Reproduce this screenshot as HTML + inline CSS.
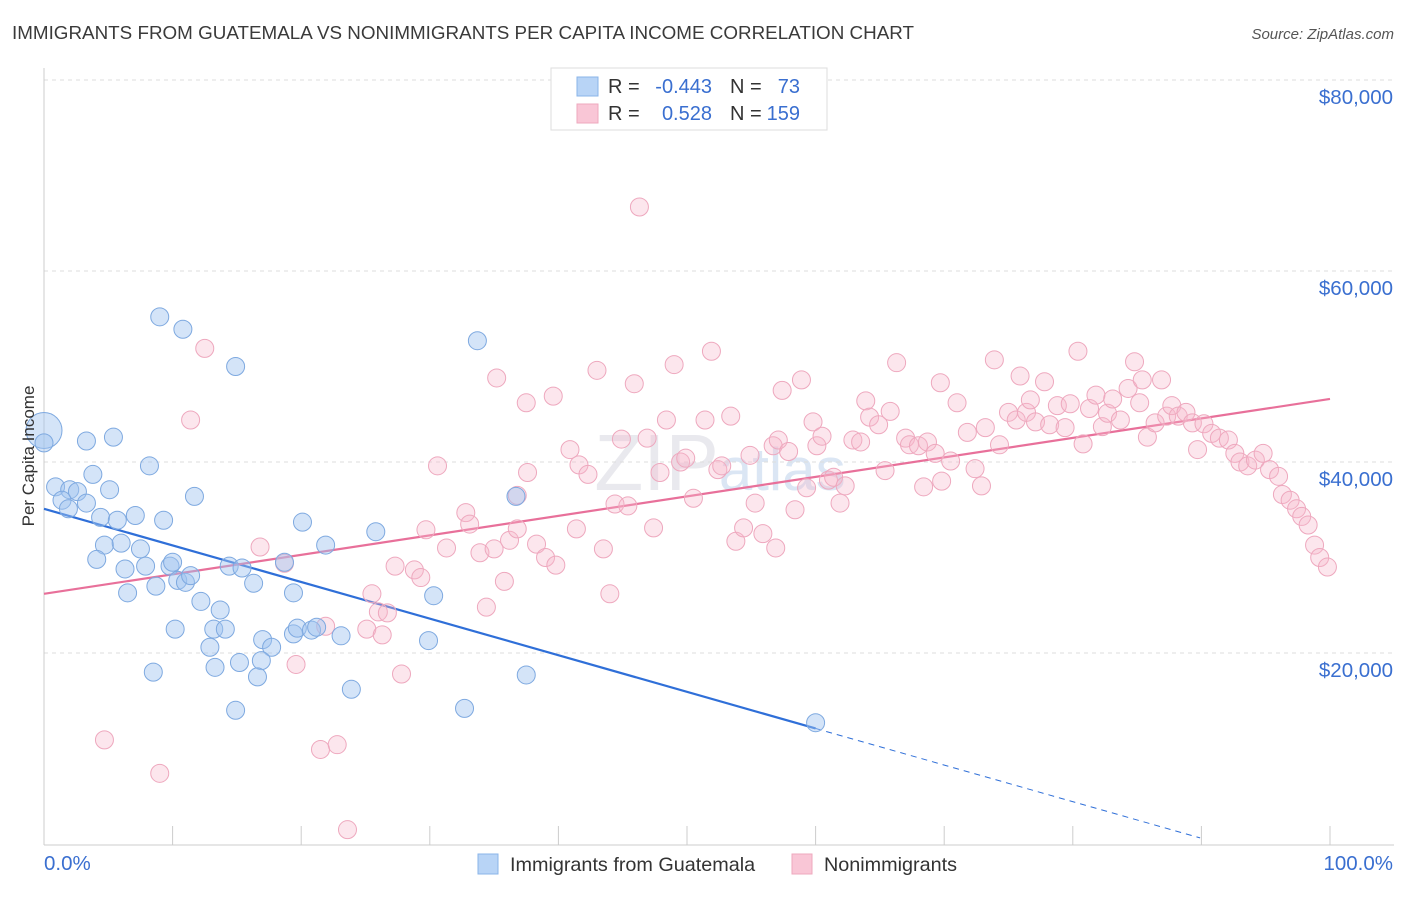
<!DOCTYPE html>
<html><head><meta charset="utf-8"><style>
body{margin:0;background:#fff;font-family:"Liberation Sans",sans-serif;}
svg text{font-family:"Liberation Sans",sans-serif;}
</style></head><body>
<svg id="chart" width="1406" height="892">
<text x="12" y="39" font-size="18" fill="#3a3a3a" textLength="902" lengthAdjust="spacingAndGlyphs">IMMIGRANTS FROM GUATEMALA VS NONIMMIGRANTS PER CAPITA INCOME CORRELATION CHART</text>
<text x="1394" y="39" font-size="15" font-style="italic" fill="#555" text-anchor="end">Source: ZipAtlas.com</text>
<text x="720" y="490" font-size="80" fill="#e9e9ee" text-anchor="middle" font-family="Liberation Serif">ZIP<tspan fill="#dbe6f4" font-family="Liberation Sans" font-size="60">atlas</tspan></text>
<g id="grid"></g>
<g id="axes"></g>
<g id="trends"></g>
<g id="pts"></g>
<text transform="translate(34,456) rotate(-90)" font-size="17" fill="#333" text-anchor="middle">Per Capita Income</text>
<g>
<rect x="551" y="68" width="276" height="62" fill="#fff" stroke="#ddd"/>
<rect x="577" y="77" width="21" height="19" fill="#b8d4f6" stroke="#8ab4e8"/>
<rect x="577" y="104" width="21" height="19" fill="#f9c6d6" stroke="#eea8be"/>
<text x="608" y="93" font-size="20" fill="#333">R =</text>
<text x="712" y="93" font-size="20" fill="#3a6fd0" text-anchor="end">-0.443</text>
<text x="730" y="93" font-size="20" fill="#333">N =</text>
<text x="800" y="93" font-size="20" fill="#3a6fd0" text-anchor="end">73</text>
<text x="608" y="120" font-size="20" fill="#333">R =</text>
<text x="712" y="120" font-size="20" fill="#3a6fd0" text-anchor="end">0.528</text>
<text x="730" y="120" font-size="20" fill="#333">N =</text>
<text x="800" y="120" font-size="20" fill="#3a6fd0" text-anchor="end">159</text>
</g>
<g>
<rect x="478" y="854" width="20" height="20" fill="#b8d4f6" stroke="#8ab4e8"/>
<text x="510" y="871" font-size="19.8" fill="#333">Immigrants from Guatemala</text>
<rect x="792" y="854" width="20" height="20" fill="#f9c6d6" stroke="#eea8be"/>
<text x="824" y="871" font-size="19.8" fill="#333">Nonimmigrants</text>
</g>
</svg>
<script>
const yTicks=[20000,40000,60000,80000];
const yTickLabels=["$20,000","$40,000","$60,000","$80,000"];
const xTickLabels=["0.0%","100.0%"];
const blueX=[0,0,0.9,2.0,2.6,1.4,3.3,1.9,4.4,5.7,7.1,5.1,3.8,3.3,5.4,8.2,11.7,9.3,4.7,6.0,7.5,4.1,6.3,7.9,9.8,10.0,6.5,8.7,10.4,11.0,11.4,12.2,13.7,10.2,13.2,14.1,14.4,15.4,16.3,18.7,19.4,12.9,13.3,15.2,17.0,17.7,16.9,16.6,14.9,8.5,19.4,19.7,20.8,21.2,23.1,23.9,20.1,21.9,25.8,30.3,29.9,32.7,37.5,36.7,9.0,10.8,14.9,33.7,60.0];
const blueY=[43.3,42.0,37.4,37.1,36.9,36.0,35.7,35.1,34.2,33.9,34.4,37.1,38.7,42.2,42.6,39.6,36.4,33.9,31.3,31.5,30.9,29.8,28.8,29.1,29.1,29.5,26.3,27.0,27.6,27.4,28.1,25.4,24.5,22.5,22.5,22.5,29.1,28.9,27.3,29.5,26.3,20.6,18.5,19.0,21.4,20.6,19.2,17.5,14.0,18.0,22.0,22.6,22.4,22.7,21.8,16.2,33.7,31.3,32.7,26.0,21.3,14.2,17.7,36.4,55.2,53.9,50.0,52.7,12.7];
const pinkX=[46.3,12.5,11.4,4.7,9.0,23.6,21.5,22.8,19.6,27.8,16.8,18.7,21.9,25.1,26.3,25.5,26.0,26.7,27.3,28.8,29.3,29.7,31.3,30.6,32.8,33.1,33.9,35.0,34.4,35.8,36.2,36.8,36.8,37.6,38.3,39.0,39.8,35.2,37.5,39.6,40.9,41.6,42.3,43.0,41.4,43.5,44.0,44.4,45.4,44.9,45.9,46.9,47.4,47.9,48.4,49.0,49.5,49.9,50.5,51.4,51.9,52.4,52.7,53.4,53.8,54.4,54.9,55.3,55.9,56.7,57.1,57.4,57.9,58.4,58.9,59.3,59.8,60.1,60.5,61.0,61.4,62.3,61.9,62.9,63.9,64.2,64.9,65.4,65.8,66.3,67.0,67.3,68.0,68.4,68.7,69.3,69.8,70.5,71.0,71.8,72.4,72.9,73.2,73.9,74.3,75.0,75.6,75.9,76.4,76.7,77.1,77.8,78.2,78.8,79.4,79.8,80.4,80.8,81.3,81.8,82.3,82.7,83.1,83.7,84.3,84.8,85.2,85.4,85.8,86.4,86.9,87.3,87.7,88.2,88.8,89.3,89.7,90.2,90.8,91.4,92.1,92.6,93.0,93.6,94.2,94.8,95.3,96.0,96.3,96.9,97.4,97.8,98.3,98.8,99.2,99.8,69.7,63.5,56.9];
const pinkY=[66.7,51.9,44.4,10.9,7.4,1.5,9.9,10.4,18.8,17.8,31.1,29.4,22.8,22.5,21.9,26.2,24.3,24.2,29.1,28.7,27.9,32.9,31.0,39.6,34.7,33.5,30.5,30.9,24.8,27.5,31.8,33.0,36.5,38.9,31.4,30.0,29.2,48.8,46.2,46.9,41.3,39.7,38.7,49.6,33.0,30.9,26.2,35.6,35.4,42.4,48.2,42.5,33.1,38.9,44.4,50.2,40.0,40.4,36.2,44.4,51.6,39.2,39.6,44.8,31.7,33.1,40.7,35.7,32.5,41.7,42.3,47.5,41.1,35.0,48.6,37.3,44.2,41.7,42.7,38.1,38.4,37.5,35.7,42.3,46.4,44.7,43.9,39.1,45.3,50.4,42.5,41.8,41.7,37.4,42.1,40.9,38.0,40.1,46.2,43.1,39.3,37.5,43.6,50.7,41.8,45.2,44.4,49.0,45.2,46.5,44.2,48.4,43.9,45.9,43.6,46.1,51.6,41.9,45.6,47.0,43.7,45.1,46.6,44.4,47.7,50.5,46.2,48.6,42.6,44.1,48.6,44.8,45.9,44.8,45.2,44.1,41.3,44.0,43.0,42.5,42.3,40.9,40.0,39.6,40.2,40.9,39.2,38.5,36.6,36.0,35.1,34.3,33.4,31.3,30.0,29.0,48.3,42.1,31.0];
const blueTrend=[35.1,12.1]; // value at 0% and 60%
const blueTrendEnd=[60,89.9];
const pinkTrend=[26.2,46.6]; // value at 0% and 100%

const NS="http://www.w3.org/2000/svg";
const X=p=>44+p*12.86;
const Y=v=>844-v*9.55; // v in thousands
function mk(tag,attrs,parent){const e=document.createElementNS(NS,tag);for(const k in attrs)e.setAttribute(k,attrs[k]);document.getElementById(parent).appendChild(e);return e;}
mk('line',{x1:44,x2:1394,y1:Y(80),y2:Y(80),stroke:'#ddd','stroke-dasharray':'4,4'},'grid');
yTicks.forEach((t,i)=>{
  const g=mk('line',{x1:44,x2:1394,y1:Y(t/1000),y2:Y(t/1000),stroke:'#ddd','stroke-dasharray':'4,4'},'grid');
  
  
  const tx=mk('text',{x:1393,y:Y(t/1000)+24,'font-size':20.5,fill:'#3a6fd0','text-anchor':'end'},'axes');
  tx.textContent=yTickLabels[i];
  
  
});
mk('line',{x1:44,x2:44,y1:68,y2:845,stroke:'#ccc'},'axes');
mk('line',{x1:44,x2:1394,y1:845,y2:845,stroke:'#ccc'},'axes');
for(let i=1;i<=10;i++){const t=mk('line',{x1:X(i*10),x2:X(i*10),y1:826,y2:845,stroke:'#ccc'},'axes');
  
  }
const xl0=mk('text',{x:44,y:870,'font-size':20.5,fill:'#3a6fd0'},'axes');xl0.textContent=xTickLabels[0];


const xl1=mk('text',{x:1393,y:870,'font-size':20.5,fill:'#3a6fd0','text-anchor':'end'},'axes');xl1.textContent=xTickLabels[1];


pinkX.forEach((p,i)=>{const c=mk('circle',{cx:X(p),cy:Y(pinkY[i]),r:9,fill:'rgba(246,182,204,0.35)',stroke:'#eea8be','stroke-width':1},'pts');
  
  });
blueX.forEach((p,i)=>{const c=mk('circle',{cx:X(p),cy:Y(blueY[i]),r:i===0?18:9,fill:'rgba(160,196,240,0.45)',stroke:'#7ea9e0','stroke-width':1},'pts');
  
  });
const bs=(blueTrend[1]-blueTrend[0])/60;
const bl=mk('line',{x1:X(0),y1:Y(blueTrend[0]),x2:X(blueTrendEnd[0]),y2:Y(blueTrend[0]+bs*blueTrendEnd[0]),stroke:'#2f6fd8','stroke-width':2.2},'trends');


const bd=mk('line',{x1:X(blueTrendEnd[0]),y1:Y(blueTrend[0]+bs*blueTrendEnd[0]),x2:X(blueTrendEnd[1]),y2:Y(blueTrend[0]+bs*blueTrendEnd[1]),stroke:'#2f6fd8','stroke-width':1,'stroke-dasharray':'6,5'},'trends');


const pl=mk('line',{x1:X(0),y1:Y(pinkTrend[0]),x2:X(100),y2:Y(pinkTrend[1]),stroke:'#e8709a','stroke-width':2.2},'trends');


</script>
</body></html>
